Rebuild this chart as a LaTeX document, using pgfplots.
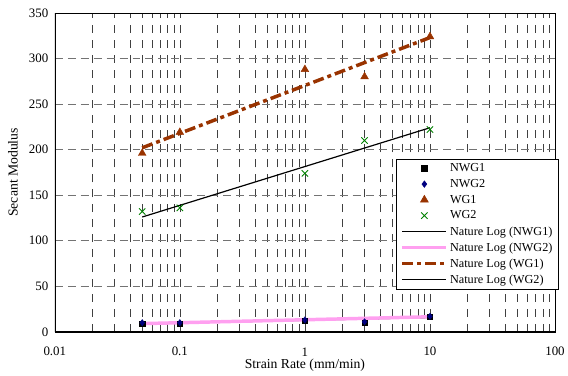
\documentclass[border=0pt]{standalone}
\usepackage{pgfplots}
\pgfplotsset{compat=1.18}
\usepackage{fontspec}
\setmainfont{Liberation Serif}
\definecolor{wgone}{RGB}{153,51,0}
\definecolor{wgtwo}{RGB}{0,128,0}
\definecolor{navy}{RGB}{0,0,128}
\definecolor{pinkline}{RGB}{255,160,240}
\pgfplotsset{
  mylegline/.style={legend image code/.code={\draw[##1] (0bp,0bp) -- (44bp,0bp);}},
  mylegmark/.style={legend image code/.code={\draw[##1] plot coordinates {(22bp,0bp)};}},
}
\begin{document}
\begin{tikzpicture}
\begin{axis}[
  xmode=log,
  width=502bp, height=320bp, scale only axis,
  xmin=0.01, xmax=100, ymin=0, ymax=350,
  xtick={0.01,0.1,1,10,100},
  xticklabels={0.01,0.1,1,10,100},
  ytick={0,50,...,350},
  minor xtick={0.02,0.03,0.04,0.05,0.06,0.07,0.08,0.09,0.2,0.3,0.4,0.5,0.6,0.7,0.8,0.9,2,3,4,5,6,7,8,9,20,30,40,50,60,70,80,90},
  xmajorgrids, xminorgrids, ymajorgrids,
  major x grid style={black!75, line width=0.6pt, dash pattern=on 8bp off 7bp},
  minor x grid style={black!75, line width=0.6pt, dash pattern=on 8bp off 7bp},
  major y grid style={black!55, line width=0.6pt, dash pattern=on 8bp off 5bp},
  x tick style={draw=none}, y tick style={draw=none},
  minor tick length=0pt,
  axis line style={line width=0.6pt},
  tick label style={font=\fontsize{13}{14}\selectfont},
  /pgf/number format/assume math mode=true,
  yticklabel style={/pgf/number format/fixed, xshift=-3bp},
  xticklabel style={anchor=center, yshift=-20bp},
  xlabel={Strain Rate (mm/min)},
  ylabel={Secant Modulus},
  label style={font=\fontsize{13.8}{15}\selectfont},
  xlabel style={at={(axis description cs:0.5,-0.1063)}, anchor=center},
  ylabel style={at={(axis description cs:-0.0837,0.5)}, anchor=center},
  legend cell align=left,
  legend style={at={(0.683,0.541)}, anchor=north west, font=\fontsize{12.3}{13}\selectfont,
    draw=black, line width=0.6pt, inner xsep=4bp, inner ysep=2bp, row sep=2.2bp,
    /tikz/every even column/.append style={column sep=0bp}},
]
\addplot[only marks, mark=square*, mark size=2.6bp, black, mylegmark] coordinates {(0.05,9) (0.1,9) (1,12) (3,10) (10,17)};
\addlegendentry{NWG1}
\addplot[only marks, mark=diamond*, mark size=3.2bp, navy, mylegmark] coordinates {(0.05,10) (0.1,10) (1,13) (3,11) (10,17)};
\addlegendentry{NWG2}
\addplot[only marks, mark=triangle*, mark size=4.5bp, wgone, mylegmark] coordinates {(0.05,196) (0.1,219) (1,288) (3,280) (10,324)};
\addlegendentry{WG1}
\addplot[only marks, mark=x, mark size=4.5bp, wgtwo, line width=0.9pt, mylegmark] coordinates {(0.05,132) (0.1,136) (1,174) (3,210) (10,222)};
\addlegendentry{WG2}
\addplot[black, line width=0.9pt, mylegline] coordinates {(0.05,8.6) (10,15.5)};
\addlegendentry{Nature Log (NWG1)}
\addplot[pinkline, line width=3.5pt, mylegline] coordinates {(0.05,9) (10,16.5)};
\addlegendentry{Nature Log (NWG2)}
\addplot[wgone, line width=3.5pt, dash pattern=on 11bp off 4bp on 4bp off 4bp, mylegline] coordinates {(0.05,202) (10,323)};
\addlegendentry{Nature Log (WG1)}
\addplot[black, line width=1.2pt, mylegline] coordinates {(0.05,126) (10,224)};
\addlegendentry{Nature Log (WG2)}
\draw[line width=1.6pt] (rel axis cs:0,1) -- (rel axis cs:0,0) -- (rel axis cs:1,0);
\path (rel axis cs:0,0) ++(-55bp,-43bp) coordinate (bbsw);
\path (rel axis cs:1,1) ++(11bp,13bp) coordinate (bbne);
\end{axis}
\path (bbsw) rectangle (bbne);
\end{tikzpicture}
\end{document}
